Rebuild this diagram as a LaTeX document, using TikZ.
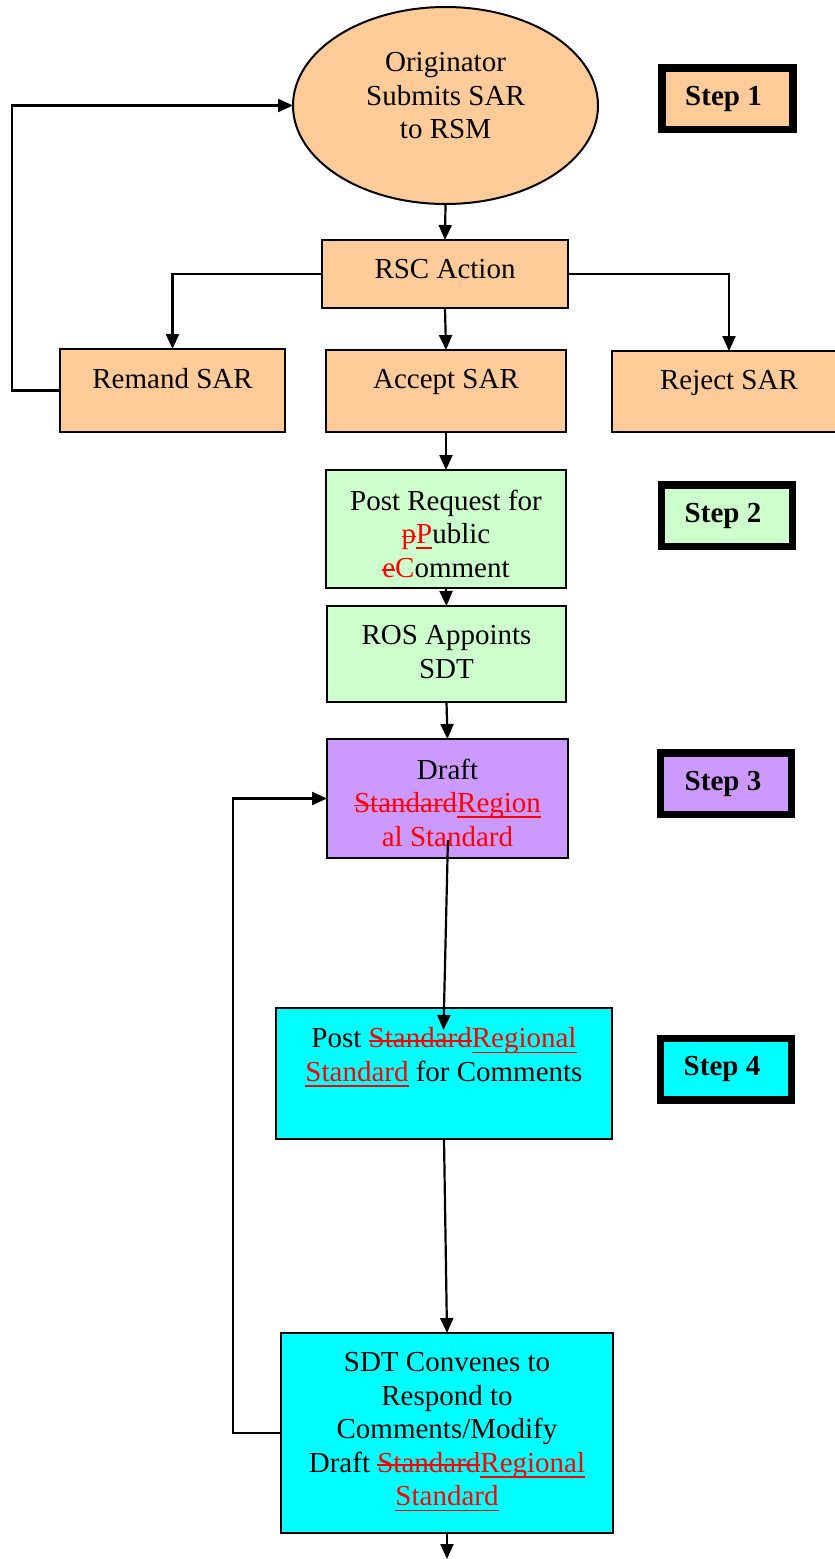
\documentclass[tikz,border=0pt]{standalone}
\usepackage{fontspec}
\setmainfont{Liberation Serif}
\usepackage{xcolor}
\usetikzlibrary{
    arrows.meta,
    positioning,
    shapes.geometric
}
\definecolor{peach}{HTML}{FFCC99}
\definecolor{mint}{HTML}{CCFFCC}
\definecolor{lilac}{HTML}{CC99FF}
\definecolor{aqua}{HTML}{00FFFF}
\newsavebox{\markbox}
\newcommand{\boxfont}{\fontsize{29pt}{33.5pt}\selectfont}
\newcommand{\oldtxt}[1]{{\color{red}\sbox{\markbox}{#1}%
  \rlap{\rule[6.2pt]{\wd\markbox}{1.8pt}}\usebox{\markbox}}}
\newcommand{\newtxt}[1]{{\color{red}\sbox{\markbox}{#1}%
  \rlap{\rule[-5.5pt]{\wd\markbox}{1.8pt}}\usebox{\markbox}}}
\tikzset{
  flow/.style    = {draw, line width=2pt, inner sep=0pt, outer sep=0pt},
  boxtext/.style = {anchor=north, yshift=-19.5pt, inner sep=0pt,
                    align=center, font=\boxfont},
  stepbox/.style = {draw, line width=7.5pt, inner sep=0pt, outer sep=0pt,
                    minimum width=131pt, minimum height=61.5pt,
                    font=\boxfont\bfseries},
  arr/.style     = {-{Triangle[length=15pt,width=13pt]}, line width=2.2pt}
}

\begin{document}
\begin{tikzpicture}[x=1pt, y=-1pt]
  \useasboundingbox (0,0) rectangle (835,1559);

  % Step 1
  \node[flow, ellipse, fill=peach, minimum width=305pt, minimum height=197pt,
        label={[boxtext, yshift=-26pt]north:Originator\\Submits SAR\\to RSM}]
        (orig) at (445.5,105.5) {};
  \node[stepbox, fill=peach] (step1) at (727.5,98.5) {Step 1\kern8pt};
  \node[flow, fill=peach, minimum width=246pt, minimum height=68pt,
        label={[boxtext]north:RSC Action}] (rsc) at (445,274) {};
  \node[flow, fill=peach, minimum width=225pt, minimum height=83pt,
        label={[boxtext]north:Remand SAR}] (remand) at (172.5,390.5) {};
  \node[flow, fill=peach, minimum width=240pt, minimum height=82pt,
        label={[boxtext]north:Accept SAR}] (accept) at (446,391) {};
  \node[flow, fill=peach, minimum width=234pt, minimum height=81pt,
        label={[boxtext]north:Reject SAR}] (reject) at (729,391.5) {};

  % Step 2
  \node[flow, fill=mint, minimum width=240pt, minimum height=118pt,
        label={[boxtext]north:Post Request for\\
          \oldtxt{p}\newtxt{P}ublic\\ \oldtxt{e}{\color{red}C}omment}]
        (postreq) at (446,529) {};
  \node[stepbox, fill=mint] (step2) at (727,515.5) {Step 2\kern8pt};
  \node[flow, fill=mint, minimum width=239pt, minimum height=96pt,
        label={[boxtext]north:ROS Appoints\\SDT}] (ros) at (446.5,654) {};

  % Step 3
  \node[flow, fill=lilac, minimum width=241pt, minimum height=119pt,
        label={[boxtext]north:Draft\\
          \oldtxt{Standard}\newtxt{Region}\\ {\color{red}al Standard}}]
        (draft) at (447.5,798.5) {};
  \node[stepbox, fill=lilac] (step3) at (726,783.5) {Step 3\kern6pt};

  % Step 4
  \node[flow, fill=aqua, minimum width=336pt, minimum height=131pt,
        label={[boxtext]north:Post \oldtxt{Standard}\newtxt{Regional}\\
          \newtxt{Standard} for Comments}] (postreg) at (444,1073.5) {};
  \node[stepbox, fill=aqua] (step4) at (726,1069) {Step 4\kern8pt};
  \node[flow, fill=aqua, minimum width=332pt, minimum height=200pt,
        label={[boxtext]north:SDT Convenes to\\Respond to\\Comments/Modify\\
          Draft \oldtxt{Standard}\newtxt{Regional}\\ \newtxt{Standard}}]
        (sdt) at (447,1433) {};
  \coordinate (exit) at (447,1559);

  % Connectors
  \draw[arr] (orig.south) -- (rsc.north);
  \draw[arr] (rsc.west) -| (remand.north);
  \draw[arr] (rsc.south) -- (accept.north);
  \draw[arr] (rsc.east) -| (reject.north);
  \draw[arr] (remand.west) -- ++(-48,0) |- (orig.west);
  \draw[arr] (accept.south) -- (postreq.north);
  \draw[arr] (postreq.south) -- (ros.north);
  \draw[arr] (ros.south) -- (draft.north);
  \draw[arr, shorten <=-18pt, shorten >=-22pt] (draft.south) -- (postreg.north);
  \draw[arr] (postreg.south) -- (sdt.north);
  \draw[arr] (sdt.west) -- ++(-48,0) |- (draft.west);
  \draw[arr] (sdt.south) -- (exit);
\end{tikzpicture}
\end{document}
